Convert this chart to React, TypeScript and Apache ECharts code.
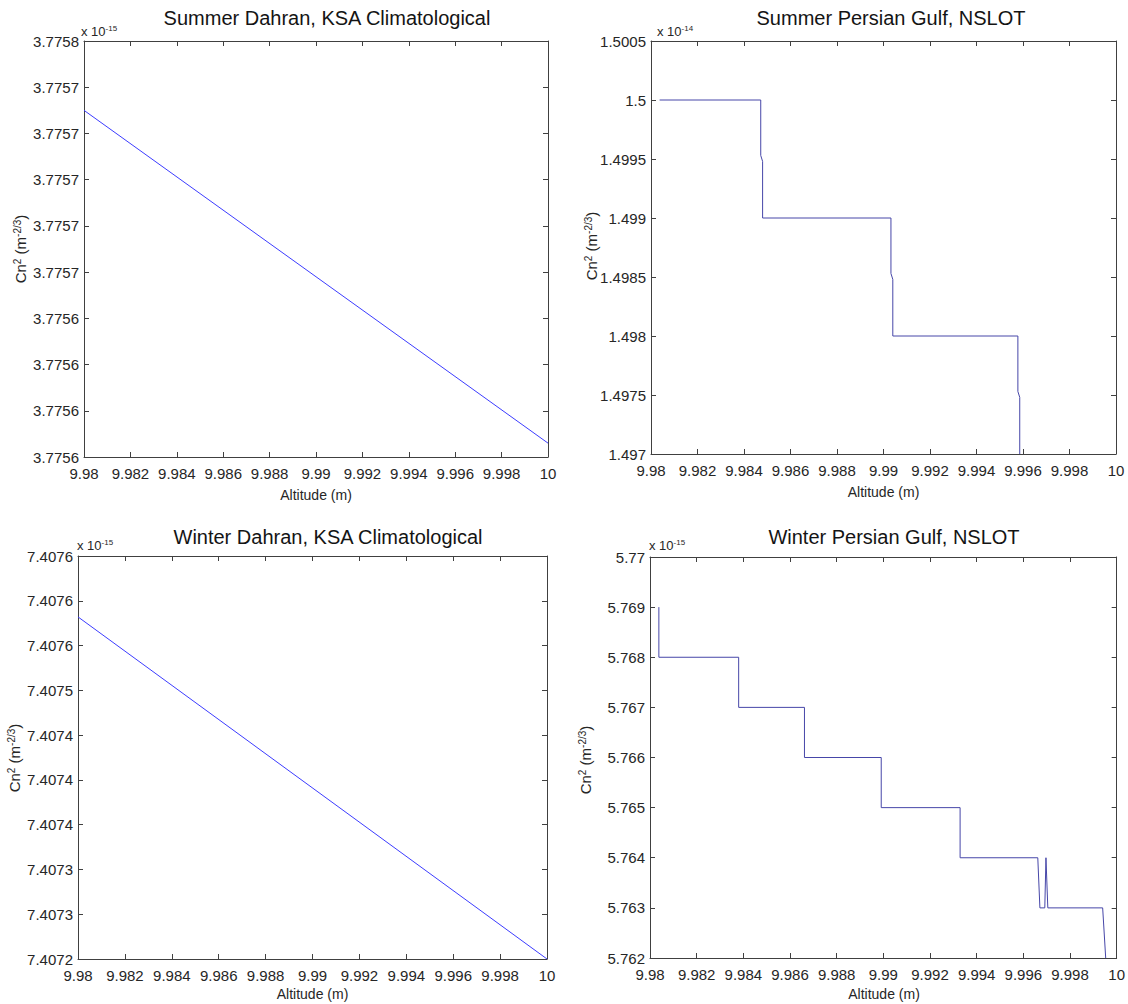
import React, { useEffect, useRef } from 'react';
import * as echarts from 'echarts';

// ---- shared x axis (Altitude, m) ----
const X_TICKS = ['9.98', '9.982', '9.984', '9.986', '9.988', '9.99', '9.992', '9.994', '9.996', '9.998', '10'];
const X_MIN = 9.98;
const X_STEP = 0.002;

// ---- Summer Dahran, KSA Climatological (x 10^-15) ----
const SD_X = [9.98, 10];
const SD_Y = [3.77573, 3.775586];
const SD_TICKS = ['3.7756', '3.7756', '3.7756', '3.7756', '3.7757', '3.7757', '3.7757', '3.7757', '3.7757', '3.7758'];
const SD_MIN = 3.77558;
const SD_STEP = 0.00002;

// ---- Summer Persian Gulf, NSLOT (x 10^-14) ----
const SP_X = [9.98037, 9.98472, 9.98472, 9.9848, 9.9848, 9.99032, 9.99032, 9.9904, 9.9904, 9.99578, 9.99578, 9.99586, 9.99586];
const SP_Y = [1.5, 1.5, 1.49953, 1.49948, 1.499, 1.499, 1.49853, 1.49848, 1.498, 1.498, 1.49753, 1.49748, 1.497];
const SP_TICKS = ['1.497', '1.4975', '1.498', '1.4985', '1.499', '1.4995', '1.5', '1.5005'];
const SP_MIN = 1.497;
const SP_STEP = 0.0005;

// ---- Winter Dahran, KSA Climatological (x 10^-15) ----
const WD_X = [9.98, 10];
const WD_Y = [7.407582, 7.4072];
const WD_TICKS = ['7.4072', '7.4073', '7.4073', '7.4074', '7.4074', '7.4074', '7.4075', '7.4076', '7.4076', '7.4076'];
const WD_MIN = 7.4072;
const WD_STEP = 0.00005;

// ---- Winter Persian Gulf, NSLOT (x 10^-15) ----
const WP_X = [9.98038, 9.98038, 9.9838, 9.9838, 9.98662, 9.98662, 9.98991, 9.98991, 9.99329, 9.99329, 9.99662, 9.99671, 9.99692, 9.99697, 9.99705, 9.9994, 9.99953];
const WP_Y = [5.769, 5.768, 5.768, 5.767, 5.767, 5.766, 5.766, 5.765, 5.765, 5.764, 5.764, 5.763, 5.763, 5.764, 5.763, 5.763, 5.762];
const WP_TICKS = ['5.762', '5.763', '5.764', '5.765', '5.766', '5.767', '5.768', '5.769', '5.77'];
const WP_MIN = 5.762;
const WP_STEP = 0.001;

const NARROW = '"Liberation Sans Narrow", "Arial Narrow", "Liberation Sans", Arial, sans-serif';
const SANS = '"Liberation Sans", Arial, Helvetica, sans-serif';
const TEXT = '#262626';
const AXIS = '#404040';
const LEFT_COLOR = '#3c3cff';
const RIGHT_COLOR = '#4646a8';

const PANELS = [
  {
    title: 'Summer Dahran, KSA Climatological', exp: '-15',
    xs: SD_X, ys: SD_Y, yMin: SD_MIN, yStep: SD_STEP, yTicks: SD_TICKS, color: LEFT_COLOR,
    grid: { left: 84, top: 41, width: 464, height: 416 },
    titlePos: [327, 18], expPos: [81, 31], namePos: [20, 249], xNameY: 495,
  },
  {
    title: 'Summer Persian Gulf, NSLOT', exp: '-14',
    xs: SP_X, ys: SP_Y, yMin: SP_MIN, yStep: SP_STEP, yTicks: SP_TICKS, color: RIGHT_COLOR,
    grid: { left: 651, top: 41, width: 465, height: 413 },
    titlePos: [891, 18], expPos: [657, 31], namePos: [591, 246], xNameY: 492,
  },
  {
    title: 'Winter Dahran, KSA Climatological', exp: '-15',
    xs: WD_X, ys: WD_Y, yMin: WD_MIN, yStep: WD_STEP, yTicks: WD_TICKS, color: LEFT_COLOR,
    grid: { left: 78, top: 556, width: 469, height: 403 },
    titlePos: [328, 537], expPos: [77, 545], namePos: [14, 758], xNameY: 994,
  },
  {
    title: 'Winter Persian Gulf, NSLOT', exp: '-15',
    xs: WP_X, ys: WP_Y, yMin: WP_MIN, yStep: WP_STEP, yTicks: WP_TICKS, color: RIGHT_COLOR,
    grid: { left: 650, top: 557, width: 468, height: 401 },
    titlePos: [894, 537], expPos: [649, 545], namePos: [585, 760], xNameY: 994,
  },
];

function buildOption() {
  const grid: any[] = [];
  const xAxis: any[] = [];
  const yAxis: any[] = [];
  const series: any[] = [];
  const graphic: any[] = [];
  const xMax = +(X_MIN + X_STEP * (X_TICKS.length - 1)).toFixed(10);

  PANELS.forEach((p, i) => {
    grid.push({ ...p.grid, containLabel: false, show: false });
    const yMax = +(p.yMin + p.yStep * (p.yTicks.length - 1)).toFixed(10);
    const axisLine = { show: true, onZero: false, lineStyle: { color: AXIS, width: 1 } };
    const axisTick = { show: true, inside: true, length: 5, lineStyle: { color: AXIS, width: 1 } };
    const labelBase = { fontFamily: NARROW, fontSize: 15, color: TEXT, hideOverlap: false, showMinLabel: true, showMaxLabel: true };
    const xBase = { type: 'value', gridIndex: i, min: X_MIN, max: xMax, interval: X_STEP, axisLine, axisTick, splitLine: { show: false } };
    const yBase = { type: 'value', gridIndex: i, min: p.yMin, max: yMax, interval: p.yStep, axisLine, axisTick, splitLine: { show: false } };
    xAxis.push({
      ...xBase, position: 'bottom',
      axisLabel: { ...labelBase, margin: 9, formatter: (v: number) => X_TICKS[Math.round((v - X_MIN) / X_STEP)] ?? '' },
    });
    xAxis.push({ ...xBase, position: 'top', axisLabel: { show: false } });
    yAxis.push({
      ...yBase, position: 'left',
      axisLabel: { ...labelBase, margin: 5, formatter: (v: number) => p.yTicks[Math.round((v - p.yMin) / p.yStep)] ?? '' },
    });
    yAxis.push({ ...yBase, position: 'right', axisLabel: { show: false } });

    series.push({
      type: 'line', xAxisIndex: 2 * i, yAxisIndex: 2 * i,
      data: p.xs.map((x, k) => [x, p.ys[k]]),
      showSymbol: false, symbol: 'none', clip: true,
      lineStyle: { color: p.color, width: 1 },
    });

    const cx = p.grid.left + p.grid.width / 2;
    graphic.push({
      type: 'text', x: p.titlePos[0], y: p.titlePos[1],
      style: { text: p.title, fontFamily: SANS, fontSize: 20, fill: '#141414', align: 'center', verticalAlign: 'middle' },
    });
    graphic.push({
      type: 'text', x: p.expPos[0], y: p.expPos[1],
      style: {
        text: 'x 10{sup|' + p.exp + '}', fontFamily: NARROW, fontSize: 13, fill: TEXT, align: 'left', verticalAlign: 'middle',
        rich: { sup: { fontSize: 8, fontFamily: NARROW, fill: TEXT, verticalAlign: 'top' } },
      },
    });
    graphic.push({
      type: 'text', x: p.namePos[0], y: p.namePos[1], rotation: Math.PI / 2,
      style: {
        text: 'Cn{sup|2} (m{sup|-2/3})', fontFamily: SANS, fontSize: 15, fill: TEXT, align: 'center', verticalAlign: 'middle',
        rich: { sup: { fontSize: 10, fontFamily: SANS, fill: TEXT, verticalAlign: 'top' } },
      },
    });
    graphic.push({
      type: 'text', x: cx, y: p.xNameY,
      style: { text: 'Altitude (m)', fontFamily: SANS, fontSize: 14, fill: TEXT, align: 'center', verticalAlign: 'middle' },
    });
  });

  return { animation: false, backgroundColor: '#ffffff', grid, xAxis, yAxis, series, graphic };
}

export default function App() {
  const ref = useRef<HTMLDivElement>(null);
  useEffect(() => {
    document.body.style.margin = '0';
    const chart = echarts.init(ref.current as HTMLDivElement, null, { renderer: 'svg' });
    chart.setOption(buildOption() as any);
    return () => chart.dispose();
  }, []);
  return <div ref={ref} style={{ width: 1128, height: 1004 }} />;
}
